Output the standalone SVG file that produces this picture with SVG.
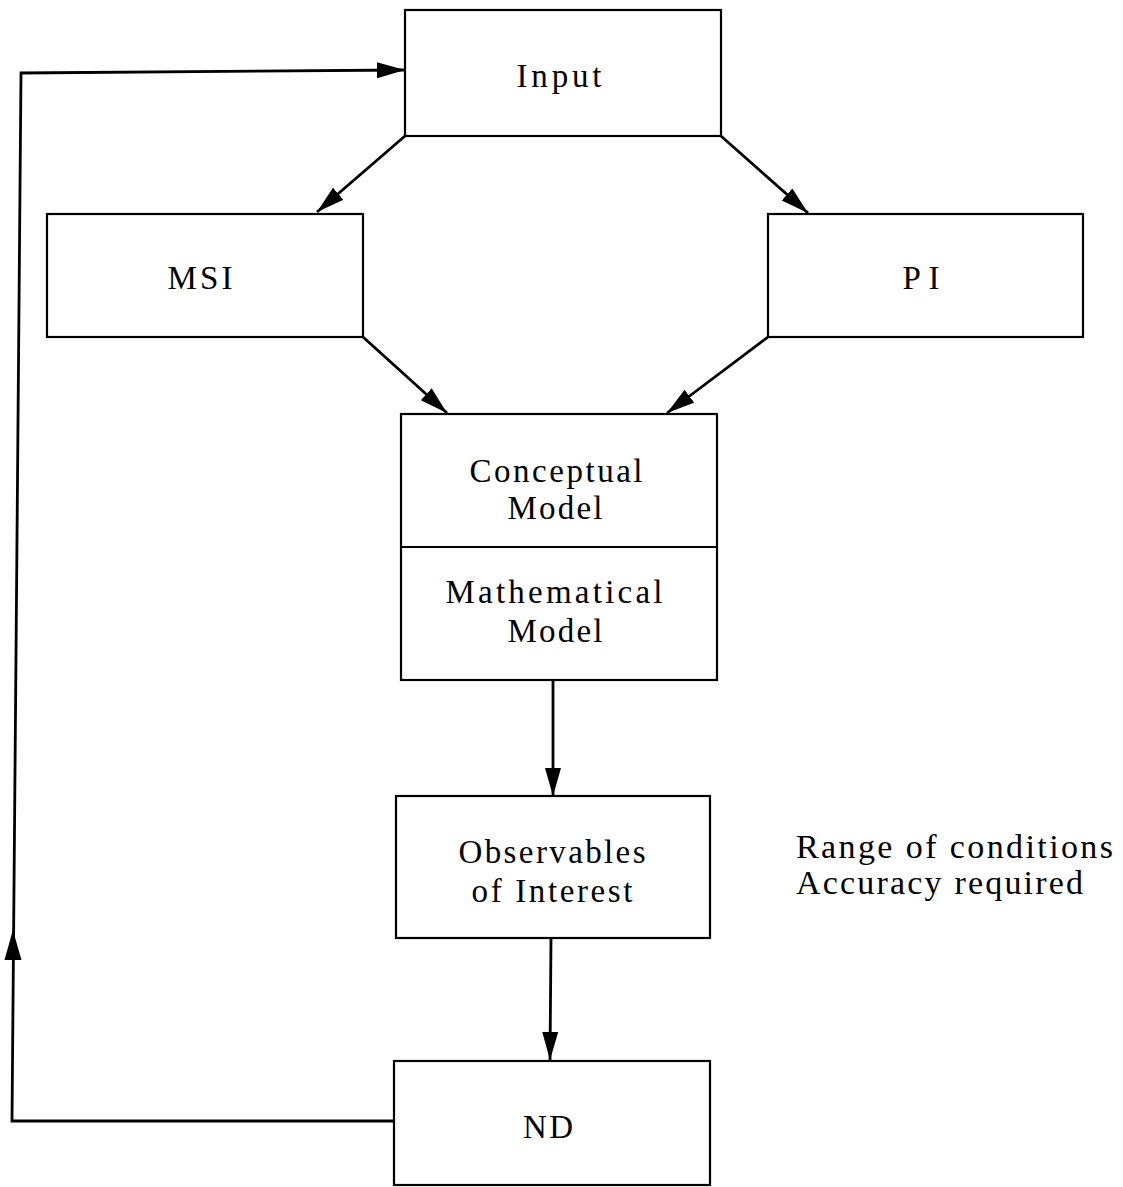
<svg xmlns="http://www.w3.org/2000/svg" width="1123" height="1187" viewBox="0 0 1123 1187">
<style>
.box{fill:#fff;stroke:#000;stroke-width:2.2}
.lbl{font-family:"Liberation Serif","DejaVu Serif",serif;font-size:33px;fill:#000;text-anchor:middle}
.side{font-family:"Liberation Serif","DejaVu Serif",serif;font-size:34px;fill:#000}
.conn{fill:none;stroke:#000;stroke-width:2.8;stroke-linejoin:miter}
</style>
<defs>
<marker id="ah" markerUnits="userSpaceOnUse" markerWidth="30" markerHeight="18" refX="28" refY="8" orient="auto">
<path d="M0,0 L28,8 L0,16 z" fill="#000"/>
</marker>
</defs>
<rect width="1123" height="1187" fill="#fff"/>
<g id="connectors">
<path class="conn" d="M394,1121 L12,1121 L21,73 L405,70" marker-end="url(#ah)"/>
<path d="M12.9,930 L4.5,960 L21.5,960 z" fill="#000"/>
<line class="conn" x1="405" y1="136" x2="317" y2="212" marker-end="url(#ah)"/>
<line class="conn" x1="721" y1="136" x2="808" y2="213" marker-end="url(#ah)"/>
<line class="conn" x1="363" y1="337" x2="447" y2="413" marker-end="url(#ah)"/>
<line class="conn" x1="768" y1="337" x2="667" y2="413" marker-end="url(#ah)"/>
<line class="conn" x1="553" y1="680" x2="553" y2="796" marker-end="url(#ah)"/>
<line class="conn" x1="551" y1="938" x2="550" y2="1060" marker-end="url(#ah)"/>
</g>
<g id="input">
<rect class="box" x="405" y="10" width="316" height="126"/>
<text class="lbl" x="559" y="87" textLength="85" lengthAdjust="spacing">Input</text>
</g>
<g id="msi">
<rect class="box" x="47" y="214" width="316" height="123"/>
<text class="lbl" x="200" y="289" textLength="65" lengthAdjust="spacing">MSI</text>
</g>
<g id="pi">
<rect class="box" x="768" y="214" width="315" height="123"/>
<text class="lbl" x="921" y="289" textLength="37" lengthAdjust="spacing">PI</text>
</g>
<g id="model">
<rect class="box" x="401" y="414" width="316" height="266"/>
<line x1="401" y1="547" x2="717" y2="547" stroke="#000" stroke-width="2"/>
<text class="lbl" x="556" y="482" textLength="173" lengthAdjust="spacing">Conceptual</text>
<text class="lbl" x="555" y="519" textLength="95" lengthAdjust="spacing">Model</text>
<text class="lbl" x="554" y="603" textLength="217" lengthAdjust="spacing">Mathematical</text>
<text class="lbl" x="555" y="642" textLength="95" lengthAdjust="spacing">Model</text>
</g>
<g id="observables">
<rect class="box" x="396" y="796" width="314" height="142"/>
<text class="lbl" x="552" y="863" textLength="187" lengthAdjust="spacing">Observables</text>
<text class="lbl" x="552" y="902" textLength="161" lengthAdjust="spacing">of Interest</text>
</g>
<g id="nd">
<rect class="box" x="394" y="1061" width="316" height="124"/>
<text class="lbl" x="548" y="1138" textLength="50" lengthAdjust="spacing">ND</text>
</g>
<g id="notes">
<text class="side" x="796" y="858" textLength="317" lengthAdjust="spacing">Range of conditions</text>
<text class="side" x="796" y="894" textLength="287" lengthAdjust="spacing">Accuracy required</text>
</g>
</svg>
